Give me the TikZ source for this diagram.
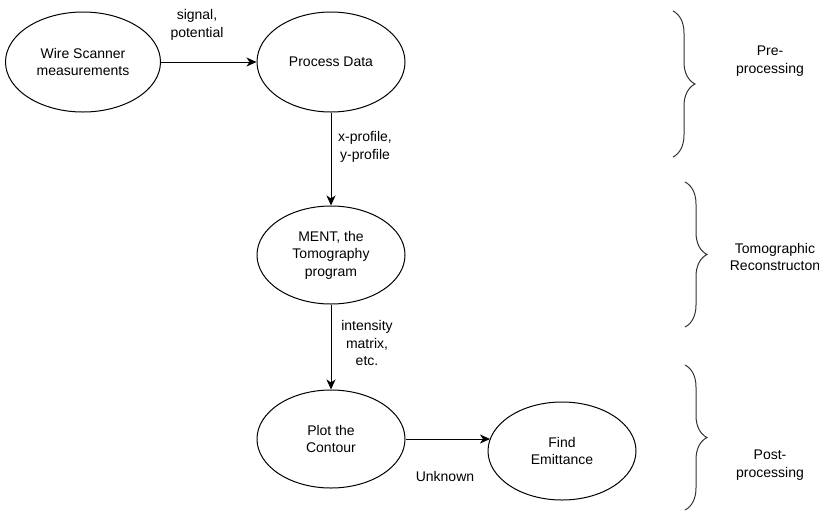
\documentclass[tikz,border=0pt]{standalone}
\usepackage{fontspec}
\setmainfont{Liberation Sans}
\usepackage{tikz}
\usetikzlibrary{positioning, shapes.geometric, arrows.meta, decorations.pathreplacing}

\begin{document}
\begin{tikzpicture}[x=1pt, y=-1pt,
    blob/.style={draw, ellipse, line width=1pt, minimum width=148pt, minimum height=98pt,
      inner sep=0pt, align=center, font=\fontsize{14}{17.5}\selectfont},
    lbl/.style={align=center, inner sep=0pt, font=\fontsize{14}{17.5}\selectfont},
    arr/.style={-{Stealth[length=10pt, width=9pt, inset=3pt]}, line width=1pt},
    phase/.style={decorate, decoration={brace, amplitude=22pt}, line width=1pt, draw=black!80}]
                \useasboundingbox (0,0) rectangle (819,512);

                % 楕円の描画
                \node[blob, minimum width=155pt, minimum height=100pt] (wire) at (83,62) {Wire Scanner\\measurements};
                \node[blob, minimum height=100pt] (proc) at (331,62) {Process Data};
                \node[blob] (ment) at (331,255) {MENT, the\\Tomography\\program};
                \node[blob] (plot) at (331,439) {Plot the\\Contour};
                \node[blob] (find) at (562,451) {Find\\Emittance};

                % 矢印の描画
                \draw[arr] (wire) -- (proc);
                \draw[arr] (proc) -- (ment);
                \draw[arr] (ment) -- (plot);
                \draw[arr] (plot.east) -- (plot.east -| find.170);

                % ラベル
                \node[lbl] (sig) at (197,25) {signal,\\potential};
                \node[lbl] (prof) at (365,147) {x-profile,\\y-profile};
                \node[lbl] (inten) at (367,343) {intensity\\matrix,\\etc.};
                \node[lbl] (unk) at (445,476) {Unknown};

                % 括弧の描画
                \draw[phase] (673,11) -- (673,157);
                \draw[phase] (685,182) -- (685,327);
                \draw[phase] (685,365) -- (685,510);
                \node[lbl] (pre) at (770,61) {Pre-\\processing};
                \node[lbl] (tomo) at (775,257) {Tomographic\\Reconstructon};
                \node[lbl] (post) at (770,465) {Post-\\processing};
            \end{tikzpicture}
\end{document}
